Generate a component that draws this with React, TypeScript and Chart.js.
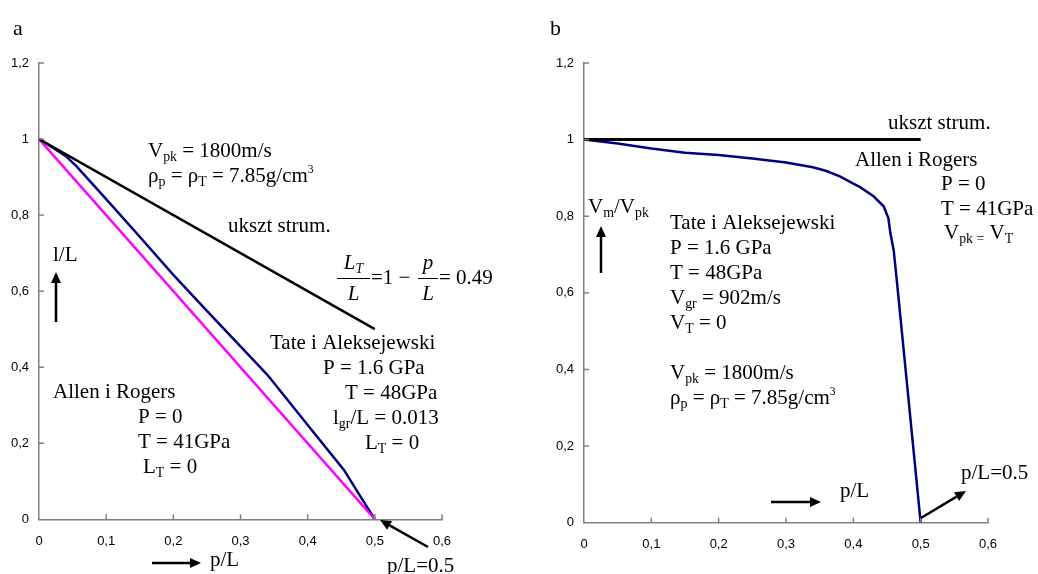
import React, { useEffect, useRef } from 'react';
import { Chart, registerables } from 'chart.js';
Chart.register(...registerables);

// ---- data: chart a ----
const strumAX = [0, 0.5];
const strumAY = [1, 0.5];
const allenAX = [0, 0.5];
const allenAY = [1, 0];
const tateAX = [0, 0.02, 0.04, 0.056, 0.1, 0.15, 0.2, 0.25, 0.3, 0.34, 0.4, 0.454, 0.475, 0.5];
const tateAY = [1, 0.978, 0.955, 0.928, 0.842, 0.743, 0.643, 0.548, 0.455, 0.38, 0.248, 0.13, 0.07, 0];

// ---- data: chart b ----
const strumBX = [0, 0.5];
const strumBY = [1, 1];
const tateBX = [0, 0.05, 0.1, 0.15, 0.2, 0.25, 0.3, 0.34, 0.36, 0.38, 0.4, 0.41, 0.43, 0.445, 0.452, 0.455, 0.46, 0.465, 0.5];
const tateBY = [1, 0.99, 0.977, 0.966, 0.96, 0.951, 0.94, 0.928, 0.918, 0.904, 0.885, 0.876, 0.852, 0.826, 0.795, 0.756, 0.71, 0.625, 0];

const xTickMax = 0.6;
const yTickMax = 1.2;

const zip = (xs: number[], ys: number[]) => xs.map((x, i) => ({ x, y: ys[i] }));

type Txt = { s: string; x: number; y: number; size?: number };
type Arrow = { x1: number; y1: number; x2: number; y2: number };
type Frac = { x: number; w: number; y: number; num: string; den: string };

const SERIF = '"Liberation Serif", "Times New Roman", serif';
const FS = 21;

function parseRich(s: string) {
  const segs: { t: string; k: 'n' | 'sub' | 'sup' }[] = [];
  let i = 0;
  let buf = '';
  while (i < s.length) {
    const c = s[i];
    if ((c === '_' || c === '^') && s[i + 1] === '{') {
      if (buf) segs.push({ t: buf, k: 'n' });
      buf = '';
      const end = s.indexOf('}', i);
      segs.push({ t: s.slice(i + 2, end), k: c === '_' ? 'sub' : 'sup' });
      i = end + 1;
    } else {
      buf += c;
      i++;
    }
  }
  if (buf) segs.push({ t: buf, k: 'n' });
  return segs;
}

function richWidth(ctx: CanvasRenderingContext2D, s: string, size: number, italic = false) {
  let w = 0;
  for (const sg of parseRich(s)) {
    const fs = sg.k === 'n' ? size : sg.k === 'sub' ? size * 0.66 : size * 0.6;
    ctx.font = `${italic ? 'italic ' : ''}${fs}px ${SERIF}`;
    w += ctx.measureText(sg.t).width;
  }
  return w;
}

function drawRich(ctx: CanvasRenderingContext2D, s: string, x: number, y: number, size: number, italic = false) {
  let cx = x;
  ctx.textBaseline = 'alphabetic';
  ctx.textAlign = 'left';
  ctx.fillStyle = '#000';
  for (const sg of parseRich(s)) {
    let fs = size;
    let dy = 0;
    if (sg.k === 'sub') { fs = size * 0.66; dy = size * 0.2; }
    if (sg.k === 'sup') { fs = size * 0.55; dy = -size * 0.45; }
    ctx.font = `${italic ? 'italic ' : ''}${fs}px ${SERIF}`;
    ctx.fillText(sg.t, cx, y + dy);
    cx += ctx.measureText(sg.t).width;
  }
}

function drawArrow(ctx: CanvasRenderingContext2D, a: Arrow) {
  const ang = Math.atan2(a.y2 - a.y1, a.x2 - a.x1);
  const hl = 11;
  const hw = 5;
  const bx = a.x2 - hl * Math.cos(ang);
  const by = a.y2 - hl * Math.sin(ang);
  ctx.strokeStyle = '#000';
  ctx.lineWidth = 2.5;
  ctx.beginPath();
  ctx.moveTo(a.x1, a.y1);
  ctx.lineTo(bx, by);
  ctx.stroke();
  ctx.fillStyle = '#000';
  ctx.beginPath();
  ctx.moveTo(a.x2, a.y2);
  ctx.lineTo(bx + hw * Math.sin(ang), by - hw * Math.cos(ang));
  ctx.lineTo(bx - hw * Math.sin(ang), by + hw * Math.cos(ang));
  ctx.closePath();
  ctx.fill();
}

// ---- annotations (page coordinates) ----
const textsA: Txt[] = [
  { s: 'a', x: 13, y: 35, size: 22 },
  { s: 'V_{pk} = 1800m/s', x: 148, y: 157 },
  { s: 'ρ_{p} = ρ_{T} = 7.85g/cm^{3}', x: 148, y: 182 },
  { s: 'ukszt strum.', x: 228, y: 232 },
  { s: 'l/L', x: 53, y: 261 },
  { s: '=1 − ', x: 371, y: 284 },
  { s: '= 0.49', x: 439, y: 284 },
  { s: 'Tate i Aleksejewski', x: 270, y: 349 },
  { s: 'P = 1.6 GPa', x: 323, y: 374 },
  { s: 'T = 48GPa', x: 345, y: 399 },
  { s: 'l_{gr}/L = 0.013', x: 333, y: 424 },
  { s: 'L_{T} = 0', x: 365, y: 449 },
  { s: 'Allen i Rogers', x: 53, y: 398 },
  { s: 'P = 0', x: 138, y: 423 },
  { s: 'T = 41GPa', x: 138, y: 448 },
  { s: 'L_{T} = 0', x: 143, y: 473 },
  { s: 'p/L', x: 210, y: 566 },
  { s: 'p/L=0.5', x: 387, y: 572 },
];
const fracsA: Frac[] = [
  { x: 337, w: 33, y: 278, num: 'L_{T}', den: 'L' },
  { x: 418, w: 20, y: 278, num: 'p', den: 'L' },
];
const arrowsA: Arrow[] = [
  { x1: 56, y1: 322, x2: 56, y2: 272 },
  { x1: 152, y1: 563, x2: 201, y2: 563 },
  { x1: 428, y1: 547, x2: 380, y2: 520 },
];

const textsB: Txt[] = [
  { s: 'b', x: 550, y: 35, size: 22 },
  { s: 'ukszt strum.', x: 888, y: 129 },
  { s: 'Allen i Rogers', x: 855, y: 166 },
  { s: 'P = 0', x: 941, y: 190 },
  { s: 'T = 41GPa', x: 941, y: 215 },
  { s: 'V_{pk =} V_{T}', x: 944, y: 239 },
  { s: 'V_{m}/V_{pk}', x: 588, y: 213 },
  { s: 'Tate i Aleksejewski', x: 670, y: 229 },
  { s: 'P = 1.6 GPa', x: 670, y: 254 },
  { s: 'T = 48GPa', x: 670, y: 279 },
  { s: 'V_{gr} = 902m/s', x: 670, y: 304 },
  { s: 'V_{T} = 0', x: 670, y: 329 },
  { s: 'V_{pk} = 1800m/s', x: 670, y: 379 },
  { s: 'ρ_{p} = ρ_{T} = 7.85g/cm^{3}', x: 670, y: 404 },
  { s: 'p/L', x: 840, y: 497 },
  { s: 'p/L=0.5', x: 961, y: 479 },
];
const arrowsB: Arrow[] = [
  { x1: 601, y1: 273, x2: 601, y2: 226 },
  { x1: 771, y1: 502, x2: 821, y2: 502 },
  { x1: 921, y1: 518, x2: 966, y2: 491 },
];

const fmt = (v: number | string) => String(Math.round(Number(v) * 10) / 10).replace('.', ',');

function makeChart(
  canvas: HTMLCanvasElement,
  datasets: any[],
  offX: number,
  yAxisW: number,
  padRight: number,
  xAxisH: number,
  texts: Txt[],
  arrows: Arrow[],
  fracs: Frac[]
) {
  const plugin = {
    id: 'annot' + offX,
    afterDraw(chart: any) {
      const ctx: CanvasRenderingContext2D = chart.ctx;
      const xs = chart.scales.x;
      const ys = chart.scales.y;
      const area = chart.chartArea;
      ctx.save();
      // inward tick marks
      ctx.strokeStyle = '#808080';
      ctx.lineWidth = 1.5;
      for (const t of xs.ticks) {
        if (t.value === 0) continue;
        const px = xs.getPixelForValue(t.value);
        ctx.beginPath();
        ctx.moveTo(px, area.bottom);
        ctx.lineTo(px, area.bottom - 5);
        ctx.stroke();
      }
      for (const t of ys.ticks) {
        if (t.value === 0) continue;
        const py = ys.getPixelForValue(t.value);
        ctx.beginPath();
        ctx.moveTo(area.left, py);
        ctx.lineTo(area.left + 5, py);
        ctx.stroke();
      }
      ctx.translate(-offX, 0);
      for (const t of texts) drawRich(ctx, t.s, t.x, t.y, t.size ?? FS);
      for (const f of fracs) {
        ctx.strokeStyle = '#000';
        ctx.lineWidth = 1;
        ctx.beginPath();
        ctx.moveTo(f.x, f.y + 0.5);
        ctx.lineTo(f.x + f.w, f.y + 0.5);
        ctx.stroke();
        const nw = richWidth(ctx, f.num, FS, true);
        drawRich(ctx, f.num, f.x + (f.w - nw) / 2, f.y - 9, FS, true);
        const dw = richWidth(ctx, f.den, FS, true);
        drawRich(ctx, f.den, f.x + (f.w - dw) / 2, f.y + 22, FS, true);
      }
      for (const a of arrows) drawArrow(ctx, a);
      ctx.restore();
    },
  };
  return new Chart(canvas, {
    type: 'scatter',
    data: { datasets },
    plugins: [plugin],
    options: {
      animation: false,
      responsive: false,
      devicePixelRatio: 1,
      layout: { padding: { left: 0, top: 63, right: padRight, bottom: 0 } },
      plugins: { legend: { display: false }, tooltip: { enabled: false } },
      elements: { point: { radius: 0 } },
      scales: {
        x: {
          type: 'linear',
          min: 0,
          max: xTickMax,
          afterFit: (s: any) => { s.height = xAxisH; },
          ticks: {
            stepSize: 0.1,
            callback: fmt,
            color: '#000',
            padding: 14,
            maxRotation: 0,
            font: { family: '"Liberation Sans", Arial, sans-serif', size: 13 },
          },
          grid: { display: true, drawOnChartArea: false, drawTicks: false, tickLength: 0 },
          border: { display: true, color: '#808080', width: 1.5 },
        },
        y: {
          type: 'linear',
          min: 0,
          max: yTickMax,
          afterFit: (s: any) => { s.width = yAxisW; },
          ticks: {
            stepSize: 0.2,
            callback: fmt,
            color: '#000',
            padding: 10,
            font: { family: '"Liberation Sans", Arial, sans-serif', size: 13 },
          },
          grid: { display: true, drawOnChartArea: false, drawTicks: false, tickLength: 0 },
          border: { display: true, color: '#808080', width: 1.5 },
        },
      },
    },
  } as any);
}

export default function App() {
  const r1 = useRef<HTMLCanvasElement>(null);
  const r2 = useRef<HTMLCanvasElement>(null);
  useEffect(() => {
    const line = (data: any[], color: string, w: number) => ({
      data,
      showLine: true,
      borderColor: color,
      backgroundColor: color,
      borderWidth: w,
      pointRadius: 0,
      tension: 0,
      fill: false,
    });
    const c1 = makeChart(
      r1.current!,
      [
        line(zip(strumAX, strumAY), '#000000', 2.5),
        line(zip(allenAX, allenAY), '#FF00FF', 2.5),
        line(zip(tateAX, tateAY), '#000080', 2.5),
      ],
      0, 39, 77, 54.7, textsA, arrowsA, fracsA
    );
    const c2 = makeChart(
      r2.current!,
      [
        line(zip(strumBX, strumBY), '#000000', 3),
        line(zip(tateBX, tateBY), '#000080', 2.5),
      ],
      519, 65, 50, 51.3, textsB, arrowsB, []
    );
    return () => {
      c1.destroy();
      c2.destroy();
    };
  }, []);
  return (
    <div style={{ position: 'absolute', left: 0, top: 0, width: 1038, height: 574, background: '#fff' }}>
      <canvas ref={r1} width={519} height={574} style={{ position: 'absolute', left: 0, top: 0 }} />
      <canvas ref={r2} width={519} height={574} style={{ position: 'absolute', left: 519, top: 0 }} />
    </div>
  );
}
